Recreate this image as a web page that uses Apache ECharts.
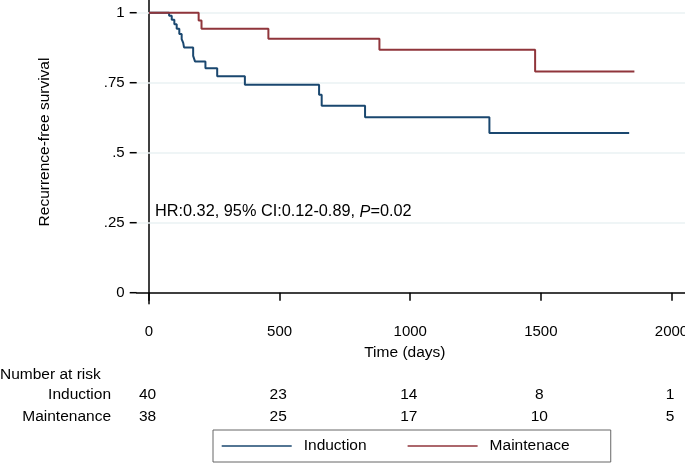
<!DOCTYPE html>
<html>
<head>
<meta charset="utf-8">
<script src="https://cdn.jsdelivr.net/npm/echarts@6/dist/echarts.min.js"></script>
<style>html,body{margin:0;padding:0;background:#fff}#c{width:685px;height:466px}</style>
</head>
<body>
<div id="c"></div>
<script>
// ---- data ----
const inductionTime = [0, 77, 87, 97, 106, 116, 125, 131, 134, 169, 176, 216, 261, 367, 651, 661, 827, 1303, 1838];
const inductionSurv = [1, 0.989, 0.975, 0.959, 0.943, 0.924, 0.906, 0.892, 0.876, 0.846, 0.826, 0.802, 0.773, 0.743, 0.707, 0.668, 0.627, 0.570, 0.570];
const maintTime = [0, 190, 201, 457, 882, 1478, 1858];
const maintSurv = [1, 0.972, 0.943, 0.907, 0.868, 0.790, 0.790];
const xTicks = [0, 500, 1000, 1500, 2000];
const yTicks = [0, 0.25, 0.5, 0.75, 1];
const yTickLabels = ['0', '.25', '.5', '.75', '1'];
const yGrid = [0.25, 0.5, 0.75, 1];
const riskTimes = [0, 500, 1000, 1500, 2000];
const riskInduction = [40, 23, 14, 8, 1];
const riskMaintenance = [38, 25, 17, 10, 5];
const groupNames = ['Induction', 'Maintenace'];
const riskRowNames = ['Induction', 'Maintenance'];
const hrText = 'HR:0.32, 95% CI:0.12-0.89, {i|P}=0.02';

const FONT = "'Liberation Sans', Arial, sans-serif";
const BLUE = '#1a476f', RED = '#90353b';
const pair = (t, s) => t.map((v, i) => [v, s[i]]);

const chart = echarts.init(document.getElementById('c'), null, {renderer: 'canvas'});
const option = {
  animation: false,
  backgroundColor: '#fff',
  grid: {left: 136.7, top: 0, right: 0, bottom: 162.3, containLabel: false, outerBoundsMode: 'none'},
  xAxis: {
    type: 'value', min: -47.1, max: 2051.7,
    axisLine: {show: true, lineStyle: {color: '#000', width: 1.5}},
    axisTick: {show: true, customValues: xTicks, length: 8, lineStyle: {color: '#000', width: 1.5}},
    axisLabel: {customValues: xTicks, margin: 21, fontSize: 15, color: '#000', fontFamily: FONT,
                formatter: v => String(v)},
    splitLine: {show: false},
    name: 'Time (days)', nameLocation: 'middle', nameGap: 38,
    nameTextStyle: {fontSize: 15.5, color: '#000', fontFamily: FONT, padding: [0, 12, 0, 0]}
  },
  yAxis: {
    type: 'value', min: -0.0393, max: 1.0454,
    axisLine: {show: true, lineStyle: {color: '#000', width: 1.5}},
    axisTick: {show: false},
    axisLabel: {
      customValues: yTicks, margin: 12, fontSize: 15, color: '#000', fontFamily: FONT,
      formatter: v => { const i = yTicks.findIndex(t => Math.abs(t - v) < 1e-6); return i >= 0 ? yTickLabels[i] : ''; }
    },
    splitLine: {show: false}
  },
  legend: {
    data: groupNames.map(n => ({name: n, icon: 'rect'})),
    left: 213, top: 430, orient: 'horizontal',
    itemWidth: 70, itemHeight: 1.6, itemGap: 41,
    padding: [8, 41, 8, 8.7],
    borderColor: '#666', borderWidth: 1,
    textStyle: {fontSize: 15.5, fontFamily: FONT, color: '#000', padding: [0, 0, 0, 7]}
  },
  series: [
    {
      name: groupNames[0], type: 'line', step: 'end', symbol: 'none', z: 3,
      lineStyle: {color: BLUE, width: 2}, itemStyle: {color: BLUE},
      data: pair(inductionTime, inductionSurv),
      markLine: {
        silent: true, z: 1, symbol: 'none', label: {show: false},
        lineStyle: {color: '#eaf2f3', width: 1.5, type: 'solid'},
        emphasis: {disabled: true},
        data: yGrid.map(v => ({yAxis: v}))
      }
    },
    {
      name: groupNames[1], type: 'line', step: 'end', symbol: 'none', z: 3,
      lineStyle: {color: RED, width: 2}, itemStyle: {color: RED},
      data: pair(maintTime, maintSurv)
    }
  ]
};
chart.setOption(option);

// ---- texts and y ticks placed through the chart's own scales ----
const txt = (text, x, y, align, size, extra) => Object.assign({
  type: 'text', x: x, y: y, silent: true,
  style: {text: text, fill: '#000', font: size + 'px ' + FONT, align: align, verticalAlign: 'middle',
          textAlign: align, textVerticalAlign: 'middle'}
}, extra || {});

const g = [];
const axisX = chart.convertToPixel({xAxisIndex: 0}, -47.1);
yTicks.forEach(v => {
  const py = chart.convertToPixel({yAxisIndex: 0}, v);
  g.push({type: 'line', silent: true, z: 10,
          shape: {x1: axisX - 7, y1: py, x2: axisX, y2: py},
          style: {stroke: '#000', lineWidth: 1.5}});
});
g.push(Object.assign(txt('Recurrence-free survival', 45, 142, 'center', 15.5), {rotation: Math.PI / 2}));
const hr = txt(hrText, 155, 212, 'left', 16.3);
hr.style.rich = {i: {fontStyle: 'italic', fontSize: 16.3, fontFamily: FONT, fill: '#000'}};
g.push(hr);
g.push(txt('Number at risk', 0, 375, 'left', 15.5));
const rowY = [395, 417];
const rows = [riskInduction, riskMaintenance];
rowY.forEach((y, r) => {
  g.push(txt(riskRowNames[r], 111, y, 'right', 15.5));
  riskTimes.forEach((t, i) => {
    const px = chart.convertToPixel({xAxisIndex: 0}, t);
    g.push(txt(String(rows[r][i]), px - 1.5, y, 'center', 15.5));
  });
});
chart.setOption({graphic: g});
</script>
</body>
</html>
